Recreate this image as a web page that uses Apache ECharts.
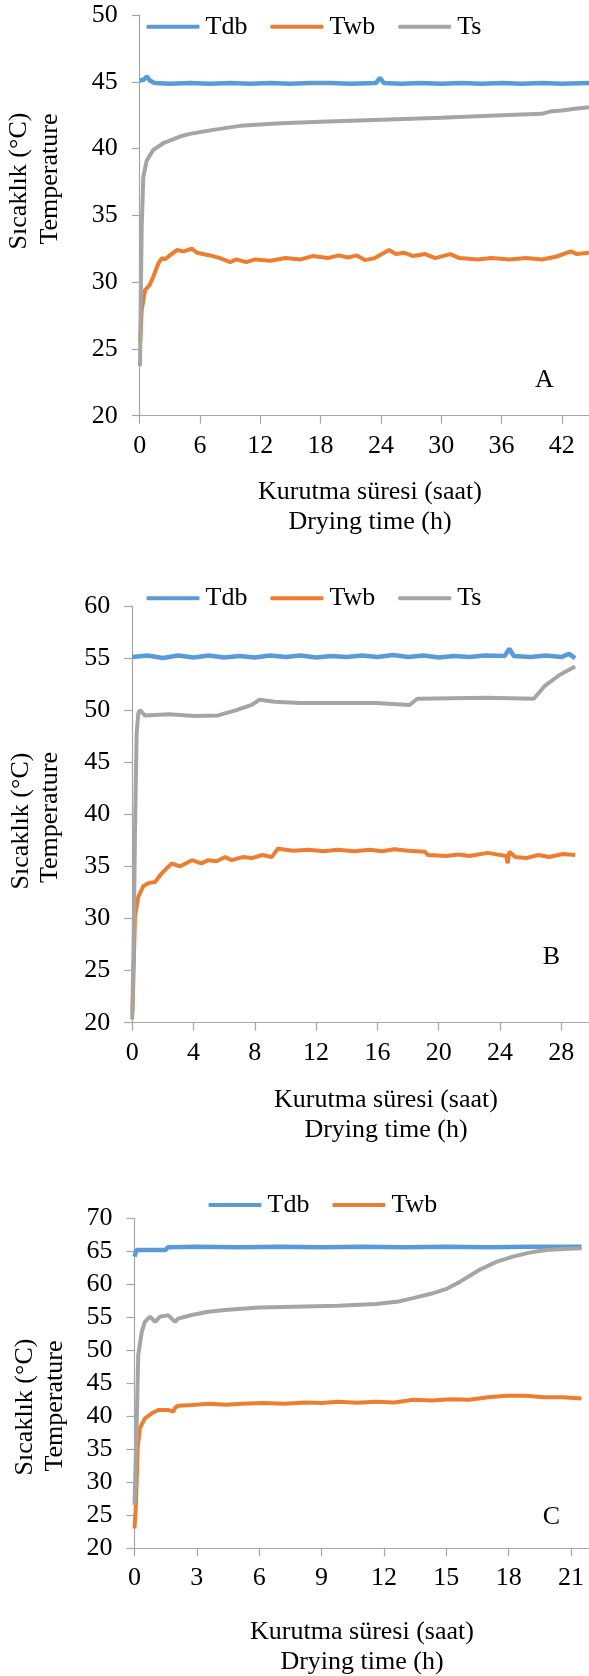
<!DOCTYPE html>
<html>
<head>
<meta charset="utf-8">
<script src="https://cdn.jsdelivr.net/npm/echarts@6/dist/echarts.min.js"></script>
<style>
  html, body { margin: 0; padding: 0; background: #fff; overflow: hidden; }
  #main { width: 600px; height: 1676px; }
</style>
</head>
<body>
<div id="main"></div>
<script>
// --- data (hour, °C) ---
let tdbA = [[0,45.1],[0.4,45.15],[0.7,45.4],[1.0,45.1],[1.5,44.9],[3,44.85],[5,44.9],[7,44.85],[9,44.9],[11,44.85],[13,44.9],[15,44.85],[17,44.9],[19,44.9],[21,44.85],[23.5,44.9],[23.9,45.3],[24.3,44.9],[26,44.85],[28,44.9],[30,44.85],[32,44.9],[34,44.85],[36,44.9],[38,44.85],[40,44.9],[42,44.85],[44.7,44.9]];
let twbA = [[0.05,25.5],[0.2,27.9],[0.53,29.4],[1.0,29.8],[1.35,30.4],[1.85,31.4],[2.2,31.8],[2.5,31.7],[3.0,32.0],[3.7,32.4],[4.35,32.3],[5.2,32.5],[5.7,32.2],[7.0,32.0],[8.0,31.8],[9.0,31.5],[9.6,31.7],[10.6,31.5],[11.5,31.7],[13,31.6],[14.5,31.8],[16,31.7],[17.2,31.95],[18.7,31.8],[19.8,32.0],[20.7,31.85],[21.6,32.0],[22.4,31.65],[23.4,31.8],[24.8,32.4],[25.5,32.1],[26.3,32.2],[27.2,31.95],[28.4,32.1],[29.4,31.8],[30.9,32.1],[31.8,31.8],[33.6,31.7],[35,31.8],[36.8,31.7],[38.4,31.8],[40,31.7],[41.4,31.9],[42.9,32.3],[43.5,32.1],[44.7,32.2]];
let tsA = [[0.03,23.7],[0.1,28],[0.2,34.2],[0.36,37.9],[0.7,39.1],[1.35,39.9],[2.35,40.4],[4,40.9],[5,41.1],[7.3,41.4],[10,41.7],[14,41.9],[18,42.0],[24,42.15],[30,42.3],[36,42.5],[40,42.6],[41,42.8],[42,42.85],[43.5,43.0],[44.7,43.1]];

let tdbB = [[0,55.1],[1,55.25],[2,55.0],[3,55.25],[4,55.05],[5,55.25],[6,55.05],[7,55.2],[8,55.05],[9,55.25],[10,55.1],[11,55.25],[12,55.05],[13,55.2],[14,55.1],[15,55.25],[16,55.1],[17,55.3],[18,55.1],[19,55.25],[20,55.05],[21,55.2],[22,55.1],[23,55.25],[24.3,55.2],[24.6,55.9],[24.9,55.2],[26,55.1],[27,55.25],[28,55.1],[28.5,55.4],[28.9,55.0]];
let twbB = [[0.02,21],[0.07,23.8],[0.18,30.2],[0.4,32.1],[0.72,33.1],[1.05,33.4],[1.49,33.5],[1.9,34.3],[2.58,35.3],[3.1,35.0],[3.9,35.6],[4.5,35.3],[4.97,35.6],[5.5,35.5],[6.06,35.9],[6.5,35.6],[7.2,35.9],[7.8,35.8],[8.5,36.1],[9.1,35.9],[9.5,36.7],[10.5,36.5],[11.5,36.6],[12.5,36.45],[13.4,36.6],[14.5,36.45],[15.5,36.6],[16.3,36.45],[17.1,36.65],[18.0,36.5],[19.1,36.4],[19.3,36.1],[20.5,36.0],[21.3,36.15],[22.0,36.0],[23.2,36.3],[24.4,36.0],[24.5,35.3],[24.6,36.4],[25.0,35.9],[25.7,35.8],[26.5,36.1],[27.2,35.9],[28.1,36.2],[28.9,36.1]];
let tsB = [[0,20.3],[0.1,28],[0.18,38.2],[0.29,47.8],[0.4,49.7],[0.5,50.0],[0.83,49.5],[2.4,49.6],[4.1,49.45],[5.6,49.5],[6.8,50.0],[7.8,50.5],[8.3,51.0],[9.3,50.8],[11.0,50.7],[15.9,50.7],[18.1,50.5],[18.6,51.1],[23.2,51.2],[26.2,51.1],[26.9,52.3],[27.9,53.4],[28.9,54.2]];

let tdbC = [[0,64.2],[0.1,65.2],[1.5,65.2],[1.6,65.6],[3,65.7],[5,65.6],[7,65.7],[9,65.6],[11,65.7],[13,65.6],[15,65.7],[17,65.6],[19,65.7],[21.5,65.7]];
let twbC = [[0,23.0],[0.07,26.6],[0.15,35.2],[0.26,38.2],[0.5,39.7],[0.83,40.45],[1.15,40.95],[1.63,40.95],[1.87,40.7],[1.95,41.3],[2.1,41.6],[2.75,41.7],[3.6,41.9],[4.4,41.75],[5.16,41.9],[6.2,42.0],[7.2,41.9],[8.2,42.1],[9.0,42.0],[9.8,42.2],[10.7,42.05],[11.6,42.2],[12.5,42.1],[13.4,42.5],[14.3,42.4],[15.2,42.6],[16.1,42.5],[17.0,42.9],[17.9,43.1],[18.8,43.1],[19.7,42.9],[20.6,42.9],[21.5,42.7]];
let tsC = [[0,26.6],[0.1,38],[0.18,49.3],[0.35,52.8],[0.5,54.3],[0.75,55.1],[0.99,54.3],[1.23,55.1],[1.63,55.3],[1.95,54.3],[2.1,54.8],[2.75,55.35],[3.55,55.85],[4.35,56.1],[6.0,56.5],[9.8,56.75],[11.6,57.0],[12.7,57.4],[13.4,57.9],[14.3,58.6],[15.0,59.3],[15.66,60.4],[16.6,62.2],[17.4,63.4],[18.2,64.2],[19.0,64.8],[19.8,65.2],[20.6,65.35],[21.5,65.45]];

// axis ranges [min, max, step]
let xRanges = [[0, 45, 6], [0, 30, 4], [0, 22, 3]];
let yRanges = [[20, 50, 5], [20, 60, 5], [20, 70, 5]];
let panelTags = ['A', 'B', 'C'];

let Colors = {Tdb: '#5B9BD5', Twb: '#ED7D31', Ts: '#A5A5A5'};
let FONT = '"Liberation Serif", "Times New Roman", serif';
let AXIS = '#a6a6a6';

let grids = [
  {left: 139.7, top: 15, width: 452.3, height: 400.7},
  {left: 132.2, top: 606, width: 459.8, height: 416.7},
  {left: 134.5, top: 1218.3, width: 457.4, height: 330}
];

let xAxis = xRanges.map((r, i) => ({
  type: 'value', gridIndex: i, min: r[0], max: r[1], interval: r[2],
  splitLine: {show: false},
  axisLine: {lineStyle: {color: AXIS, width: 1.2}},
  axisTick: {length: 8, lineStyle: {color: AXIS, width: 1.2}},
  axisLabel: {color: '#000', fontFamily: FONT, fontSize: 26, margin: 17, showMaxLabel: false}
}));

let yAxis = yRanges.map((r, i) => ({
  type: 'value', gridIndex: i, min: r[0], max: r[1], interval: r[2],
  splitLine: {show: false},
  axisLine: {show: true, lineStyle: {color: AXIS, width: 1.2}},
  axisTick: {show: true, length: 8, lineStyle: {color: AXIS, width: 1.2}},
  axisLabel: {color: '#000', fontFamily: FONT, fontSize: 26, margin: 22}
}));

function line(name, data, idx, width) {
  return {
    name: name, type: 'line', data: data, xAxisIndex: idx, yAxisIndex: idx,
    symbol: 'none', smooth: false, animation: false,
    lineStyle: {color: Colors[name], width: width || 4},
    itemStyle: {color: Colors[name]}
  };
}

let series = [
  line('Tdb', tdbA, 0, 4.5), line('Twb', twbA, 0), line('Ts', tsA, 0),
  line('Tdb', tdbB, 1, 4.5), line('Twb', twbB, 1), line('Ts', tsB, 1),
  line('Tdb', tdbC, 2, 4.5), line('Twb', twbC, 2), line('Ts', tsC, 2)
];

function legend(names, left, cy) {
  return {
    data: names, left: left, top: cy - 15, padding: 0,
    orient: 'horizontal', icon: 'roundRect',
    itemWidth: 53, itemHeight: 4, itemGap: 23,
    textStyle: {color: '#000', fontFamily: FONT, fontSize: 26, lineHeight: 30, padding: [0, 0, 0, 1]},
    selectedMode: false
  };
}

function txt(text, x, y, rot) {
  return {
    type: 'text', x: x, y: y, rotation: rot || 0,
    style: {
      text: text, x: 0, y: 0, fill: '#000',
      font: '26px ' + FONT,
      textAlign: 'center', textVerticalAlign: 'middle',
      align: 'center', verticalAlign: 'middle'
    }
  };
}

let R = Math.PI / 2;
let graphic = [
  // panel A
  txt('Sıcaklık (°C)', 19, 181, R), txt('Temperature', 50, 179, R),
  txt('Kurutma süresi (saat)', 370, 491.7), txt('Drying time (h)', 370, 521.7),
  txt(panelTags[0], 544.5, 380),
  // panel B
  txt('Sıcaklık (°C)', 21, 821, R), txt('Temperature', 50, 817.5, R),
  txt('Kurutma süresi (saat)', 386, 1100), txt('Drying time (h)', 386, 1130),
  txt(panelTags[1], 551.5, 956.7),
  // panel C
  txt('Sıcaklık (°C)', 25, 1407, R), txt('Temperature', 55, 1406, R),
  txt('Kurutma süresi (saat)', 362, 1631.7), txt('Drying time (h)', 362, 1661.7),
  txt(panelTags[2], 551.5, 1517)
];

let option = {
  backgroundColor: '#fff',
  animation: false,
  grid: grids,
  xAxis: xAxis,
  yAxis: yAxis,
  legend: [
    legend(['Tdb', 'Twb', 'Ts'], 146.5, 26.7),
    legend(['Tdb', 'Twb', 'Ts'], 146.5, 598.3),
    legend(['Tdb', 'Twb'], 208.5, 1205)
  ],
  graphic: graphic,
  series: series
};

let chart = echarts.init(document.getElementById('main'), null, {renderer: 'canvas'});
chart.setOption(option);
</script>
</body>
</html>
